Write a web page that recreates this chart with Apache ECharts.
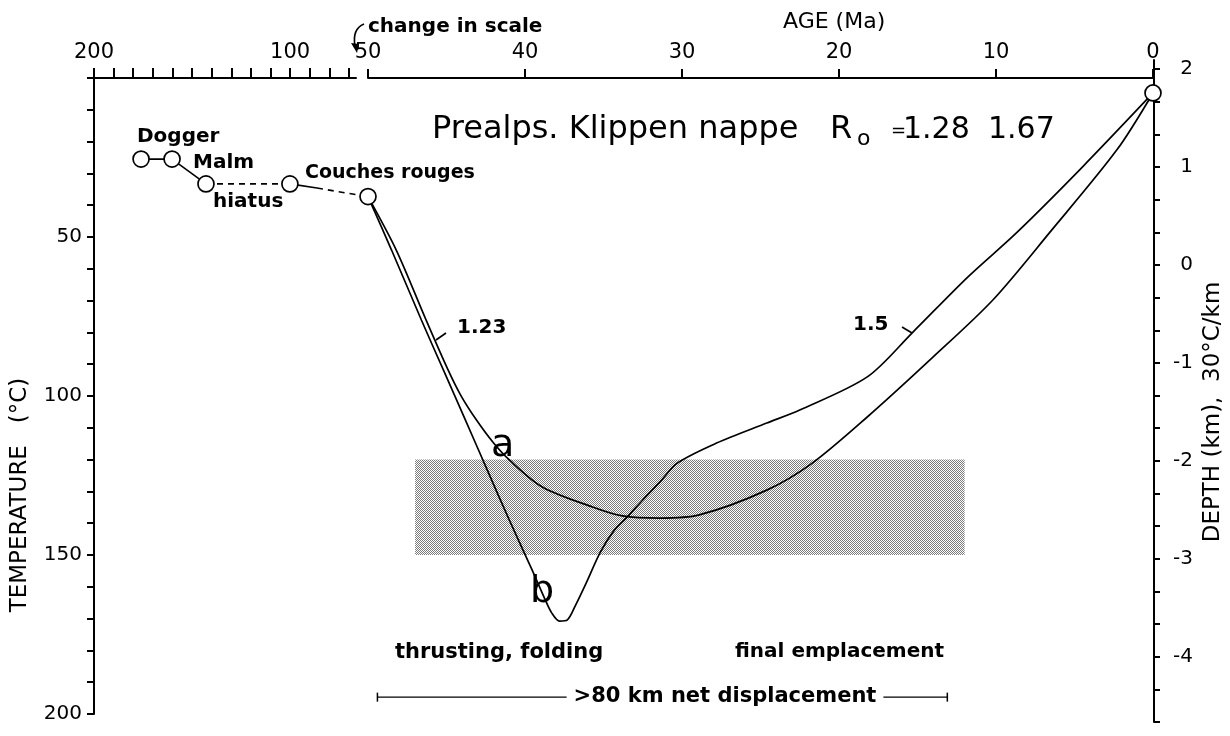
<!DOCTYPE html>
<html><head><meta charset="utf-8">
<script src="https://cdn.jsdelivr.net/npm/echarts@6/dist/echarts.min.js"></script>
<style>html,body{margin:0;padding:0;background:#fff}#c{width:1230px;height:736px}</style>
</head><body><div id="c"></div>
<script>
// ---------------- data ----------------
// Mesozoic part, drawn on the compressed (200–66 Ma) scale
const oldAges  = [176.0, 160.2, 142.9, 100.1];
const oldTemps = [25.5, 25.5, 33.3, 33.3];
const oldNames = ['Dogger', 'Malm', 'hiatus', 'Couches rouges'];
const solidEndAge = 86.3, solidEndTemp = 34.6;      // end of the short solid piece after Couches rouges
// Tertiary part, drawn on the expanded (50–0 Ma) scale
const startPoint = [50, 37.3];
const endPoint   = [0, 4.7];
const pathAAges  = [50, 48.2, 46.3, 44.9, 44.1, 43.1, 42.0, 41.0, 38.9, 35.7, 33.8, 31.4, 28.9, 24.6, 21.7, 18.2, 14.0, 10.2, 6.6, 2.3, 0];
const pathATemps = [37.3, 54.1, 76.1, 91.8, 99.7, 107.5, 114.8, 120.1, 128.6, 134.9, 137.7, 138.4, 137.4, 129.6, 121.1, 106.6, 87.7, 69.8, 48.7, 22.6, 4.7];
const pathBAges  = [50, 48.5, 46.6, 45.2, 43.8, 42.4, 41.0, 39.6, 38.7, 38.3, 37.8, 37.3, 36.8, 36.1, 35.2, 34.3, 33.5, 32.5, 31.4, 30.3, 27.8, 24.6, 22.5, 18.2, 15.35, 11.8, 8.7, 4.5, 0];
const pathBTemps = [37.3, 54.1, 76.1, 91.8, 107.5, 123.3, 139.0, 154.1, 164.2, 168.2, 170.8, 170.4, 166.0, 158.8, 149.1, 142.1, 138.1, 132.7, 127.0, 121.1, 114.8, 108.5, 104.4, 94.0, 80.2, 62.6, 48.7, 28.0, 4.7];
const bandAges  = [47, 12];
const bandTemps = [120, 150];
const displacementAges = [49.4, 13.1];
const displacementTemp = 194.7;
// tick values / labels
const oldTickValues  = [70, 80, 90, 100, 110, 120, 130, 140, 150, 160, 170, 180, 190, 200];
const oldLabelValues = [100, 200];
const oldRange = [66.4, 200];
const newRange = [0, 50];
const tempRange = [0, 200];
const depthRangeThirds = [-14, 6.28];   // depth axis counted in 1/3 km steps

// ---------------- layout ----------------
const GA = {left: 94, right: 356};
const GB = {left: 368, right: 1153};
const TOP = 78, BOTTOM = 22;
// express a compressed-scale age as a position on the expanded 50–0 Ma axis (the "change in scale")
function toNewScale(age) {
  const x = GA.left + (oldRange[1] - age) / (oldRange[1] - oldRange[0]) * (GA.right - GA.left);
  return (GB.right - x) / (GB.right - GB.left) * (newRange[1] - newRange[0]);
}
const zip = (a, b) => a.map((v, i) => [v, b[i]]);
const FONT = 'DejaVu Sans';
const K = '#000';

// stipple pattern for the shaded band
const pat = document.createElement('canvas');
pat.width = 2; pat.height = 2;
const pctx = pat.getContext('2d');
pctx.fillStyle = '#fff'; pctx.fillRect(0, 0, 2, 2);
pctx.fillStyle = '#7a7a7a'; pctx.fillRect(0, 0, 1, 1); pctx.fillRect(1, 1, 1, 1);

const chart = echarts.init(document.getElementById('c'), null, {renderer: 'canvas'});
const axisLine = {show: true, onZero: false, lineStyle: {color: K, width: 2}};
const lbl = (size) => ({color: K, fontFamily: FONT, fontSize: size});

function txt(text, x, y, size, o = {}) {
  return {type: 'text', x, y, rotation: o.rot || 0, z: 100,
    style: {text, fill: K, fontFamily: FONT, fontSize: size, fontWeight: o.bold ? 'bold' : 'normal',
      align: o.align || 'left', verticalAlign: 'middle',
      backgroundColor: o.bg, padding: o.pad}};
}

const option = {
  animation: false,
  backgroundColor: '#fff',
  grid: [
    {left: GA.left, right: 1230 - GA.right, top: TOP, bottom: BOTTOM},
    {left: GB.left, right: 1230 - GB.right, top: TOP, bottom: BOTTOM},
    {left: 1100, right: 76, top: 60, bottom: 14},
    // whole-width helper grid in expanded-scale units, used only for the link across the scale change
    {left: GA.left, right: 1230 - GB.right, top: TOP, bottom: BOTTOM}
  ],
  xAxis: [
    {gridIndex: 0, type: 'value', position: 'top', inverse: true, min: oldRange[0], max: oldRange[1],
     axisLine, splitLine: {show: false},
     axisTick: {show: true, customValues: oldTickValues, length: 10, lineStyle: {color: K, width: 2}},
     axisLabel: {customValues: oldLabelValues, margin: 15, ...lbl(21)}},
    {gridIndex: 1, type: 'value', position: 'top', inverse: true, min: newRange[0], max: newRange[1], interval: 10,
     axisLine, splitLine: {show: false},
     axisTick: {show: true, length: 9, lineStyle: {color: K, width: 2}},
     axisLabel: {margin: 15, showMinLabel: true, showMaxLabel: true, ...lbl(21)}},
    {gridIndex: 2, type: 'value', show: false, min: 0, max: 1},
    {gridIndex: 3, type: 'value', show: false, inverse: true, min: 0, max: toNewScale(oldRange[1])}
  ],
  yAxis: [
    {gridIndex: 0, type: 'value', inverse: true, min: tempRange[0], max: tempRange[1], interval: 10,
     axisLine, splitLine: {show: false},
     axisTick: {show: true, length: 7, lineStyle: {color: K, width: 2}},
     axisLabel: {margin: 12, showMaxLabel: true, formatter: v => (v > 0 && v % 50 === 0) ? String(v) : '', ...lbl(20)}},
    {gridIndex: 1, type: 'value', show: false, inverse: true, min: tempRange[0], max: tempRange[1]},
    {gridIndex: 2, type: 'value', position: 'right', min: depthRangeThirds[0], max: depthRangeThirds[1], interval: 1,
     axisLine, splitLine: {show: false},
     axisTick: {show: true, length: 6, lineStyle: {color: K, width: 2}},
     axisLabel: {margin: 39, align: 'right', showMaxLabel: false,
       formatter: v => (Math.round(v) % 3 === 0) ? (v < 0 ? '-' + (-v / 3) : String(v / 3)) : '', ...lbl(20)}},
    {gridIndex: 3, type: 'value', show: false, inverse: true, min: tempRange[0], max: tempRange[1]}
  ],
  series: [
    { // shaded window
      type: 'custom', xAxisIndex: 1, yAxisIndex: 1, z: 1, silent: true,
      data: [[bandAges[0], bandTemps[0], bandAges[1], bandTemps[1]]],
      renderItem: (params, api) => {
        const p1 = api.coord([api.value(0), api.value(1)]);
        const p2 = api.coord([api.value(2), api.value(3)]);
        return {type: 'rect',
          shape: {x: Math.min(p1[0], p2[0]), y: Math.min(p1[1], p2[1]), width: Math.abs(p2[0] - p1[0]), height: Math.abs(p2[1] - p1[1])},
          style: {fill: {image: pat, repeat: 'repeat'}}};
      }
    },
    { // Dogger – Malm – hiatus (solid)
      type: 'line', xAxisIndex: 0, yAxisIndex: 0, z: 4, symbol: 'none',
      lineStyle: {color: K, width: 1.6}, data: zip(oldAges.slice(0, 3), oldTemps.slice(0, 3))
    },
    { // hiatus – Couches rouges (dashed)
      type: 'line', xAxisIndex: 0, yAxisIndex: 0, z: 4, symbol: 'none',
      lineStyle: {color: K, width: 1.6, type: [6, 5]}, data: zip(oldAges.slice(2, 4), oldTemps.slice(2, 4))
    },
    { // short solid piece after Couches rouges
      type: 'line', xAxisIndex: 0, yAxisIndex: 0, z: 4, symbol: 'none',
      lineStyle: {color: K, width: 1.6}, data: [[oldAges[3], oldTemps[3]], [solidEndAge, solidEndTemp]]
    },
    { // dashed link across the change in scale
      type: 'line', xAxisIndex: 3, yAxisIndex: 3, z: 4, symbol: 'none',
      lineStyle: {color: K, width: 1.6, type: [6, 5]},
      data: [[toNewScale(solidEndAge), solidEndTemp], startPoint]
    },
    { // path a (Ro 1.28)
      type: 'line', xAxisIndex: 1, yAxisIndex: 1, z: 5, symbol: 'none', smooth: 0.3,
      lineStyle: {color: K, width: 1.7}, data: zip(pathAAges, pathATemps)
    },
    { // path b (Ro 1.67)
      type: 'line', xAxisIndex: 1, yAxisIndex: 1, z: 5, symbol: 'none', smooth: 0.3,
      lineStyle: {color: K, width: 1.7}, data: zip(pathBAges, pathBTemps)
    },
    { // displacement bar
      type: 'line', xAxisIndex: 1, yAxisIndex: 1, z: 5, symbol: 'rect', symbolSize: [1.5, 9],
      itemStyle: {color: K}, lineStyle: {color: K, width: 1.3},
      data: displacementAges.map(a => [a, displacementTemp])
    },
    { // open circles, old scale
      type: 'scatter', xAxisIndex: 0, yAxisIndex: 0, z: 10, symbol: 'circle', symbolSize: 16,
      itemStyle: {color: '#fff', borderColor: K, borderWidth: 1.7, opacity: 1},
      data: zip(oldAges, oldTemps)
    },
    { // open circles, new scale
      type: 'scatter', xAxisIndex: 1, yAxisIndex: 1, z: 10, symbol: 'circle', symbolSize: 16, clip: false,
      itemStyle: {color: '#fff', borderColor: K, borderWidth: 1.7, opacity: 1},
      data: [startPoint, endPoint]
    }
  ],
  graphic: [
    txt('AGE (Ma)', 783, 22, 22),
    txt('change in scale', 368, 27, 20, {bold: true}),
    {type: 'bezierCurve', z: 100, shape: {x1: 364, y1: 24, cpx1: 352, cpy1: 29, x2: 355, y2: 46}, style: {stroke: K, lineWidth: 1.6, fill: null}},
    {type: 'polygon', z: 100, shape: {points: [[351, 43], [359, 44], [357, 53]]}, style: {fill: K}},
    txt('Prealps. Klippen nappe', 432, 130, 32),
    txt('R', 830, 130, 32),
    txt('o', 857, 139, 22),
    txt('=', 891, 131, 18),
    txt('1.28', 903, 130, 30),
    txt('1.67', 988, 130, 30),
    txt(oldNames[0], 137, 137, 20, {bold: true}),
    txt(oldNames[1], 193, 163, 20, {bold: true}),
    txt(oldNames[2], 213, 202, 20, {bold: true}),
    txt(oldNames[3], 305, 173, 19, {bold: true}),
    {type: 'line', z: 100, shape: {x1: 436, y1: 340, x2: 446, y2: 333}, style: {stroke: K, lineWidth: 1.6}},
    txt('1.23', 457, 328, 20, {bold: true}),
    {type: 'line', z: 100, shape: {x1: 902, y1: 327, x2: 912, y2: 333}, style: {stroke: K, lineWidth: 1.6}},
    txt('1.5', 853, 325, 20, {bold: true}),
    txt('a', 491, 446, 38),
    txt('b', 530, 592, 38),
    txt('thrusting, folding', 395, 653, 21, {bold: true}),
    txt('final emplacement', 735, 652, 20, {bold: true}),
    txt('>80 km net displacement', 725, 697, 21, {bold: true, align: 'center', bg: '#fff', pad: [0, 7]}),
    txt('DEPTH (km),  30°C/km', 1213, 412, 23, {rot: Math.PI / 2, align: 'center'}),
    txt('TEMPERATURE   (°C)', 20, 495, 23, {rot: Math.PI / 2, align: 'center'})
  ]
};
chart.setOption(option);
</script>
</body></html>
